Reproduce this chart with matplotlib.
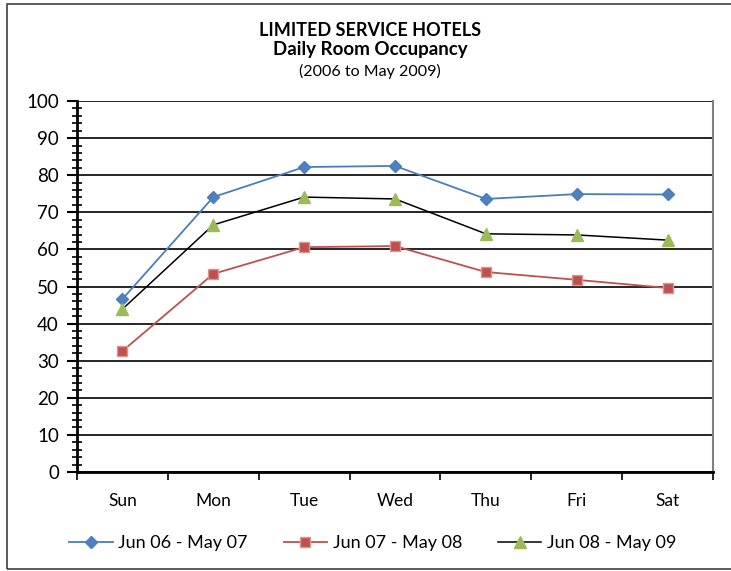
import matplotlib.pyplot as plt
from matplotlib.patches import Rectangle
from matplotlib.ticker import MultipleLocator

plt.rcParams['font.family'] = ['Lato', 'DejaVu Sans']

days = ['Sun', 'Mon', 'Tue', 'Wed', 'Thu', 'Fri', 'Sat']
occ_0607 = [46.6, 74.1, 82.2, 82.5, 73.6, 74.9, 74.8]
occ_0708 = [32.6, 53.4, 60.6, 60.9, 53.9, 51.8, 49.6]
occ_0809 = [43.9, 66.6, 74.1, 73.6, 64.2, 63.9, 62.5]
labels = ['Jun 06 - May 07', 'Jun 07 - May 08', 'Jun 08 - May 09']

fig = plt.figure(figsize=(7.31, 5.71), dpi=100)
ax = fig.add_axes([77 / 731, 1 - 472 / 571, 636 / 731, 371 / 571])

x = list(range(len(days)))
ax.plot(x, occ_0607, color='#4A7EBB', lw=1.3, marker='D', ms=6,
        mfc='#4F81BD', mec='#4A7EBB', label=labels[0])
ax.plot(x, occ_0708, color='#C0504D', lw=1.3, marker='s', ms=7.5,
        mfc='#C0504D', mec='#D99694', label=labels[1])
ax.plot(x, occ_0809, color='black', lw=1.1, marker='^', ms=8,
        mfc='#9BBB59', mec='#9BBB59', label=labels[2])

ax.set_xlim(-0.5, 6.5)
ax.set_ylim(0, 100)
ax.yaxis.set_major_locator(MultipleLocator(10))
ax.yaxis.set_minor_locator(MultipleLocator(2))
ax.grid(axis='y', which='major', color='black', lw=1.2)
ax.set_axisbelow(True)

ax.set_xticks(x)
ax.set_xticklabels(days, fontsize=12.5)
ax.set_xticks([i - 0.5 for i in range(8)], minor=True)
ax.tick_params(axis='x', which='major', length=0, pad=15)
ax.tick_params(axis='x', which='minor', length=6, width=1.2, direction='out')
ax.tick_params(axis='y', which='major', length=7, width=1.5, direction='out', labelsize=13.5, pad=6)
ax.tick_params(axis='y', which='minor', length=7, width=1.2, direction='inout')

ax.spines['left'].set_linewidth(2)
ax.spines['bottom'].set_linewidth(2)
ax.spines['top'].set_visible(False)
ax.spines['right'].set_color('#808080')
ax.spines['right'].set_linewidth(1.5)

fig.text(0.506, 1 - 30 / 571, 'LIMITED SERVICE HOTELS', ha='center', va='center',
         fontsize=13, fontweight='bold')
fig.text(0.506, 1 - 50 / 571, 'Daily Room Occupancy', ha='center', va='center',
         fontsize=13.5, fontweight='bold')
fig.text(0.506, 1 - 71 / 571, '(2006 to May 2009)', ha='center', va='center',
         fontsize=11.5)

fig.legend(loc='center', bbox_to_anchor=(0.51, 1 - 543 / 571), ncol=3,
           frameon=False, fontsize=13, handlelength=2.4, columnspacing=2.0,
           handletextpad=0.3)

fig.patches.append(Rectangle((7 / 731, 2 / 571), 730 / 731, 565 / 571,
                             transform=fig.transFigure, fill=False,
                             edgecolor='#404040', lw=1.2))

fig.savefig('out.png', dpi=100)
